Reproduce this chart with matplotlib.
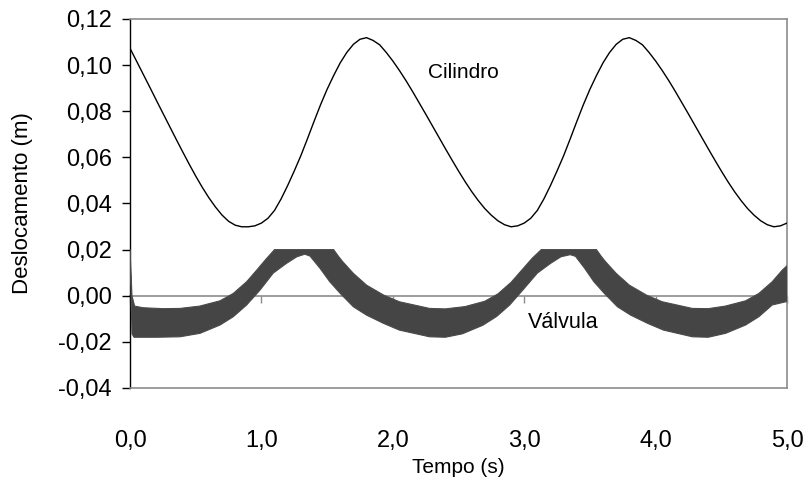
import matplotlib
matplotlib.use("Agg")
import matplotlib.pyplot as plt

plt.rcParams['font.family'] = ['Liberation Sans', 'DejaVu Sans']

# cylinder displacement (m), read every 0.05 s
t_cil = [0.00, 0.05, 0.10, 0.15, 0.20, 0.25, 0.30, 0.35, 0.40, 0.45,
         0.50, 0.55, 0.60, 0.65, 0.70, 0.75, 0.80, 0.85, 0.90, 0.95,
         1.00, 1.05, 1.10, 1.15, 1.20, 1.25, 1.30, 1.35, 1.40, 1.45,
         1.50, 1.55, 1.60, 1.65, 1.70, 1.75, 1.80, 1.85, 1.90, 1.95,
         2.00, 2.05, 2.10, 2.15, 2.20, 2.25, 2.30, 2.35, 2.40, 2.45,
         2.50, 2.55, 2.60, 2.65, 2.70, 2.75, 2.80, 2.85, 2.90, 2.95,
         3.00, 3.05, 3.10, 3.15, 3.20, 3.25, 3.30, 3.35, 3.40, 3.45,
         3.50, 3.55, 3.60, 3.65, 3.70, 3.75, 3.80, 3.85, 3.90, 3.95,
         4.00, 4.05, 4.10, 4.15, 4.20, 4.25, 4.30, 4.35, 4.40, 4.45,
         4.50, 4.55, 4.60, 4.65, 4.70, 4.75, 4.80, 4.85, 4.90, 4.95, 5.00]
cilindro = [0.1073, 0.1017, 0.0961, 0.0905, 0.0848, 0.0792, 0.0736, 0.0680, 0.0625, 0.0571,
            0.0519, 0.0470, 0.0425, 0.0385, 0.0350, 0.0323, 0.0306, 0.0299, 0.0299, 0.0303,
            0.0315, 0.0336, 0.0370, 0.0420, 0.0478, 0.0541, 0.0607, 0.0680, 0.0755, 0.0828,
            0.0895, 0.0955, 0.1010, 0.1055, 0.1090, 0.1112, 0.1119, 0.1107, 0.1088, 0.1055,
            0.1018, 0.0977, 0.0933, 0.0886, 0.0837, 0.0788, 0.0738, 0.0688, 0.0638, 0.0589,
            0.0541, 0.0495, 0.0452, 0.0413, 0.0378, 0.0349, 0.0325, 0.0308, 0.0299, 0.0303,
            0.0315, 0.0336, 0.0370, 0.0420, 0.0478, 0.0541, 0.0607, 0.0680, 0.0755, 0.0828,
            0.0895, 0.0955, 0.1010, 0.1055, 0.1090, 0.1112, 0.1119, 0.1107, 0.1088, 0.1055,
            0.1018, 0.0977, 0.0933, 0.0886, 0.0837, 0.0788, 0.0738, 0.0688, 0.0638, 0.0589,
            0.0541, 0.0495, 0.0452, 0.0413, 0.0378, 0.0349, 0.0325, 0.0308, 0.0299, 0.0303, 0.0315]

# valve oscillates fast: upper and lower envelopes of the band
t_val_sup = [0.000, 0.015, 0.035, 0.10, 0.25, 0.38, 0.53, 0.685, 0.786, 0.888, 0.964, 1.04, 1.10,
             1.55, 1.585, 1.62, 1.70, 1.80, 1.93, 2.05, 2.28, 2.40, 2.55, 2.70, 2.80, 2.90, 2.98, 3.06, 3.13,
             3.55, 3.585, 3.62, 3.70, 3.80, 3.93, 4.05, 4.28, 4.40, 4.53, 4.685, 4.786, 4.888, 4.964, 5.00]
val_sup = [0.0200, 0.0000, -0.0045, -0.0052, -0.0056, -0.0055, -0.0045, -0.0022, 0.0010, 0.0061, 0.0111, 0.0162, 0.0200,
           0.0200, 0.0172, 0.0147, 0.0097, 0.0046, 0.0003, -0.0026, -0.0055, -0.0057, -0.0047, -0.0024, 0.0008, 0.0058, 0.0110, 0.0162, 0.0200,
           0.0200, 0.0172, 0.0147, 0.0097, 0.0046, 0.0003, -0.0026, -0.0055, -0.0056, -0.0045, -0.0022, 0.0010, 0.0061, 0.0111, 0.0130]

t_val_inf = [0.000, 0.015, 0.030, 0.20, 0.38, 0.533, 0.685, 0.786, 0.888, 0.99, 1.09, 1.19, 1.27, 1.33,
             1.37, 1.446, 1.52, 1.60, 1.70, 1.80, 1.93, 2.05, 2.28, 2.40, 2.53, 2.685, 2.79, 2.89, 2.99,
             3.10, 3.20, 3.28, 3.35, 3.39, 3.46, 3.53, 3.61, 3.71, 3.81, 3.94, 4.06, 4.28, 4.40, 4.533,
             4.685, 4.786, 4.888, 5.00]
val_inf = [0.0195, -0.0165, -0.0180, -0.0180, -0.0178, -0.0163, -0.0127, -0.0091, -0.0040, 0.0025, 0.0098, 0.0140, 0.0169, 0.0180,
           0.0172, 0.0119, 0.0061, 0.0010, -0.0048, -0.0084, -0.0120, -0.0149, -0.0178, -0.0180, -0.0165, -0.0128, -0.0090, -0.0040, 0.0025,
           0.0098, 0.0140, 0.0169, 0.0178, 0.0171, 0.0119, 0.0061, 0.0010, -0.0048, -0.0084, -0.0120, -0.0149, -0.0178, -0.0180, -0.0163,
           -0.0127, -0.0091, -0.0040, -0.0025]

x_ticks = [0, 1, 2, 3, 4, 5]
x_labels = ['0,0', '1,0', '2,0', '3,0', '4,0', '5,0']
y_ticks = [-0.04, -0.02, 0.0, 0.02, 0.04, 0.06, 0.08, 0.10, 0.12]
y_labels = ['-0,04', '-0,02', '0,00', '0,02', '0,04', '0,06', '0,08', '0,10', '0,12']

fig = plt.figure(figsize=(8.09, 4.83), dpi=100)
ax = fig.add_axes([0.1607, 0.1967, 0.8121, 0.764])

# band: polygon running along the upper envelope and back along the lower one
band_t = t_val_sup + t_val_inf[::-1]
band_y = val_sup + val_inf[::-1]
ax.fill(band_t, band_y, color='#454545', lw=0.8, ec='#4a4a4a', zorder=3)
ax.plot(t_cil, cilindro, color='black', lw=1.0, zorder=4)

ax.set_xlim(0, 5)
ax.set_ylim(-0.04, 0.12)

# frame: black left axis, grey elsewhere
for side in ['top', 'right', 'bottom']:
    ax.spines[side].set_color('#8c8c8c')
    ax.spines[side].set_linewidth(1.2)
ax.spines['left'].set_color('black')
ax.spines['left'].set_linewidth(1.0)

ax.set_yticks(y_ticks)
ax.set_yticklabels(y_labels)
ax.tick_params(axis='y', direction='out', length=6, width=1.0, pad=7, labelsize=17)
ax.set_xticks(x_ticks)
ax.set_xticklabels(x_labels)
ax.tick_params(axis='x', length=0, pad=30, labelsize=17)

# x axis line crosses at y = 0 with small tick marks
zero_pos = (0 - (-0.04)) / 0.16
sec = ax.secondary_xaxis(zero_pos)
sec.set_xticks(x_ticks)
sec.set_xticklabels([])
sec.spines['bottom'].set_color('#8c8c8c')
sec.spines['bottom'].set_linewidth(1.2)
sec.tick_params(axis='x', direction='out', length=5, width=1.0, color='#8c8c8c')
sec.set_zorder(1)

ax.set_xlabel('Tempo (s)', fontsize=15)
ax.set_ylabel('Deslocamento (m)', fontsize=16)
ax.xaxis.set_label_coords(0.5, -0.19)
ax.yaxis.set_label_coords(-0.148, 0.5)

ax.text(2.27, 0.097, 'Cilindro', fontsize=15, ha='left', va='center')
ax.text(3.03, -0.0118, 'Válvula', fontsize=15.5, ha='left', va='center')

fig.savefig('out.png', dpi=100)
